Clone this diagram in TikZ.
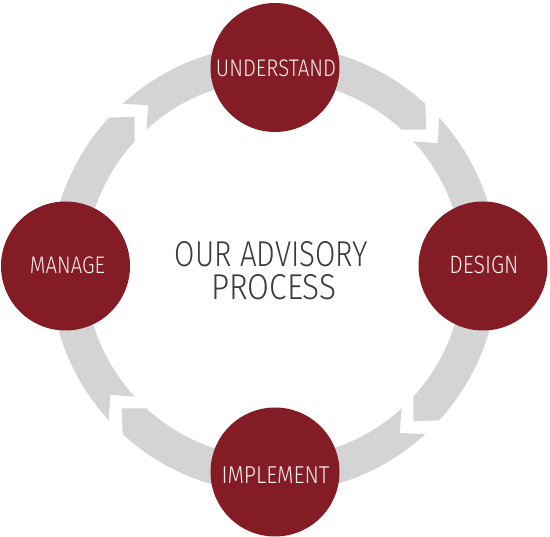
\documentclass[tikz,border=0pt]{standalone}
\usepackage{fontspec}
\newfontfamily\lblfont{Fira Sans Light}
\definecolor{ringgray}{HTML}{D4D4D4}
\definecolor{stepred}{HTML}{831C24}
\definecolor{titlegray}{HTML}{3A3B3B}
\definecolor{lblwhite}{HTML}{F7F0F0}
\newcommand\fitlbl[3]{\resizebox{#1pt}{#2pt}{\lblfont #3}}
\tikzset{
  stepcirc/.style={circle, fill=stepred, minimum size=129pt, inner sep=0pt},
  steplbl/.style={anchor=base, inner sep=0pt, text=lblwhite},
  titlelbl/.style={anchor=base, inner sep=0pt, text=titlegray},
  ringpiece/.style={fill=ringgray}
}
\begin{document}
\begin{tikzpicture}[x=1pt,y=-1pt]
\useasboundingbox (0,0) rectangle (550,537);
\fill[white] (0,0) rectangle (550,537);
% ring pieces (image angles: -90 top, 0 right, 90 bottom, 180 left)
\begin{scope}[shift={(274,269)}]
\foreach \a in {-90,0,90,180}{
  \fill[ringpiece] (\a-42.5:224) arc[start angle=\a-42.5, end angle=\a+42.5, radius=224]
    -- (\a+47.5:206.5) -- (\a+42.5:189)
    arc[start angle=\a+42.5, end angle=\a-42.5, radius=189]
    -- (\a-37.5:206.5) -- cycle;
}
\end{scope}
% circles
\node[stepcirc] (und) at (275,67.5) {};
\node[stepcirc] (des) at (483,266) {};
\node[stepcirc] (imp) at (275,472) {};
\node[stepcirc] (man) at (65.5,266) {};
% labels
\node[steplbl] (undl) at (276,76.7) {\fitlbl{120}{16.7}{UNDERSTAND}};
\node[steplbl] (desl) at (484,273.3) {\fitlbl{69}{17.5}{DESIGN}};
\node[steplbl] (impl) at (275.5,483.3) {\fitlbl{108}{16.7}{IMPLEMENT}};
\node[steplbl] (manl) at (67.5,273.3) {\fitlbl{75}{16.7}{MANAGE}};
% title
\node[titlelbl] (t1) at (271.5,266.7) {\fitlbl{193}{25}{OUR ADVISORY}};
\node[titlelbl] (t2) at (274,300) {\fitlbl{125}{25}{PROCESS}};
\end{tikzpicture}
\end{document}
